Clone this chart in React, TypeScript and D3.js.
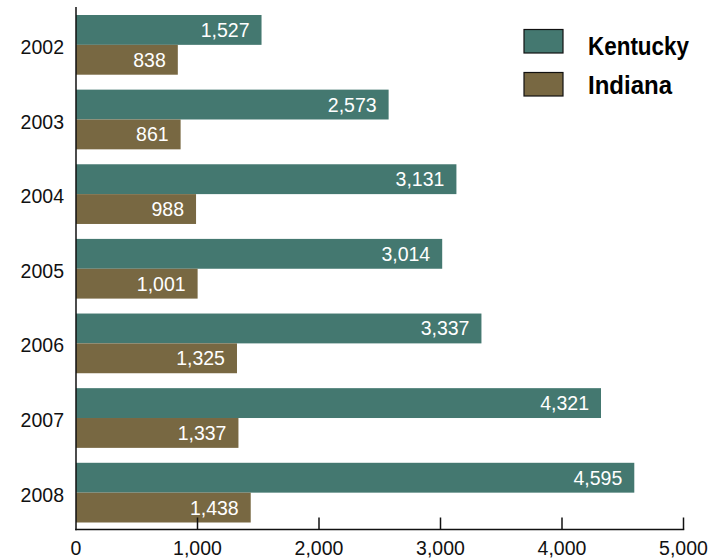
import React from "react";
import * as d3 from "d3";

const years = ["2002", "2003", "2004", "2005", "2006", "2007", "2008"];
const kentucky = [1527, 2573, 3131, 3014, 3337, 4321, 4595];
const indiana = [838, 861, 988, 1001, 1325, 1337, 1438];
const seriesNames = ["Kentucky", "Indiana"];
const seriesColors = ["#447870", "#786842"];
const xTicks = [0, 1000, 2000, 3000, 4000, 5000];

const W = 723;
const H = 558;

export default function App() {
  const x = d3.scaleLinear().domain([0, 5000]).range([76, 683.5]);
  const y = d3.scaleBand<string>().domain(years).range([15, 522.5]).paddingInner(0.2).paddingOuter(0);
  const bw = y.bandwidth();
  const half = bw / 2;
  const fmt = d3.format(",");
  const axisY = 529.5;
  const valueFont = "'Liberation Sans', Arial, sans-serif";
  const series = [kentucky, indiana];
  const legendWidths = [101, 84];

  return (
    <svg width={W} height={H} style={{ position: "absolute", left: 0, top: 0, background: "#fff" }}>
      {years.map((yr, i) => (
        <g key={yr}>
          {series.map((vals, s) => {
            const y0 = (y(yr) as number) + s * half;
            const x0 = x(0);
            const x1 = x(vals[i]);
            return (
              <g key={s}>
                <rect x={x0} y={y0} width={x1 - x0} height={half} fill={seriesColors[s]} />
                <text
                  x={x1 - 12}
                  y={y0 + half / 2}
                  dy="0.36em"
                  textAnchor="end"
                  fill="#fff"
                  fontFamily={valueFont}
                  fontSize={19.5}
                >
                  {fmt(vals[i])}
                </text>
              </g>
            );
          })}
          <text
            x={64}
            y={(y(yr) as number) + bw / 2 + 2}
            dy="0.36em"
            textAnchor="end"
            fill="#111"
            fontFamily={valueFont}
            fontSize={19.5}
          >
            {yr}
          </text>
        </g>
      ))}
      <line x1={76} x2={76} y1={7} y2={axisY + 0.75} stroke="#111" strokeWidth={1.5} />
      <line x1={75.25} x2={x(5000) + 0.75} y1={axisY} y2={axisY} stroke="#111" strokeWidth={1.5} />
      {xTicks.map((t) => (
        <g key={t}>
          {t > 0 && <line x1={x(t)} x2={x(t)} y1={axisY - 12} y2={axisY} stroke="#111" strokeWidth={1.5} />}
          <text
            x={x(t)}
            y={548}
            dy="0.36em"
            textAnchor="middle"
            fill="#111"
            fontFamily={valueFont}
            fontSize={19.5}
          >
            {fmt(t)}
          </text>
        </g>
      ))}
      {seriesNames.map((name, s) => (
        <g key={name}>
          <rect
            x={524}
            y={29.5 + s * 43}
            width={39}
            height={23.5}
            fill={seriesColors[s]}
            stroke="#111"
            strokeWidth={1.2}
          />
          <text
            x={588}
            y={55 + s * 39}
            fill="#000"
            fontFamily="'Liberation Sans Narrow', 'Arial Narrow', 'Liberation Sans', sans-serif"
            fontWeight="bold"
            fontSize={26}
            textLength={legendWidths[s]}
            lengthAdjust="spacingAndGlyphs"
          >
            {name}
          </text>
        </g>
      ))}
    </svg>
  );
}
